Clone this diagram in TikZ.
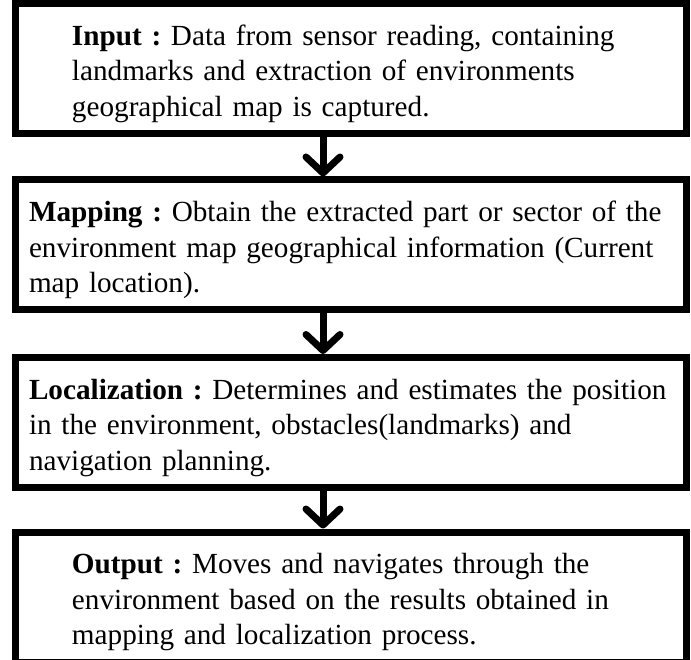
\documentclass[tikz,border=0pt]{standalone}
\usepackage{fontspec}
\setmainfont{Liberation Serif}[WordSpace=0.85]
\usetikzlibrary{arrows.meta}
\usetikzlibrary{calc}
\usetikzlibrary{positioning}

\begin{document}
\begin{tikzpicture}[x=1pt,y=-1pt,
        box/.style={draw,line width=7pt,minimum width=671pt,minimum height=130pt,
            align=left,inner ysep=0pt,inner xsep=10pt,text width=651pt,
            font=\fontsize{29.2}{35.5}\selectfont\frenchspacing},
        wide/.style={box,execute at begin node={\leftskip=46.5pt\rule{0pt}{31pt}}},
        narrow/.style={box,execute at begin node={\leftskip=3.5pt\rule{0pt}{31pt}}},
        flow/.style={line width=7pt,-{Straight Barb[length=16pt,width=34pt,round]}}]
        \useasboundingbox (0,0) rectangle (691,660);
        \node (input) at (351,68.5) [wide] {\textbf{Input :} Data from sensor reading, containing\\
            landmarks and extraction of environments\\
            geographical map is captured.};
        \node (mapping) at (351,245) [narrow] {\textbf{Mapping :} Obtain the extracted part or sector of the\\
            environment map geographical information (Current\\
            map location).};
        \node (localization) at (351,422.5) [narrow] {\textbf{Localization :} Determines and estimates the position\\
            in the environment, obstacles(landmarks) and\\
            navigation planning.};
        \node (output) at (351,597) [wide] {\textbf{Output :} Moves and navigates through the\\
            environment based on the results obtained in\\
            mapping and localization process.};

        \draw[flow] ([xshift=-28pt]input.south) -- ([xshift=-28pt]mapping.north);
        \draw[flow] ([xshift=-28pt]mapping.south) -- ([xshift=-28pt]localization.north);
        \draw[flow] ([xshift=-28pt]localization.south) -- ([xshift=-28pt]output.north);
    \end{tikzpicture}
\end{document}
